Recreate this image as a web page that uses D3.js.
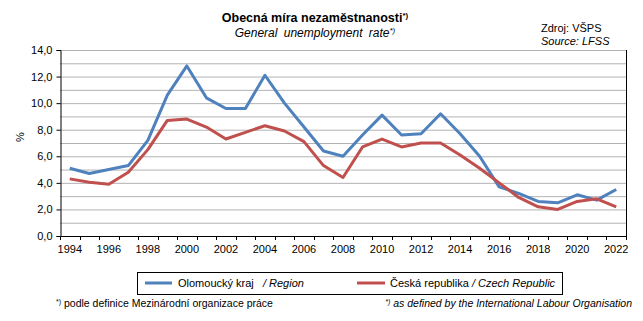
<!DOCTYPE html>
<html><head><meta charset="utf-8">
<script src="https://cdn.jsdelivr.net/npm/d3@7"></script>
<style>body{margin:0;background:#fff}svg{display:block;font-family:"Liberation Sans",Arial,sans-serif}</style>
</head><body>
<svg id="c" width="643" height="321"></svg>
<script>
const years = d3.range(1994, 2023).map(String);
const olomouc = [5.1,4.7,5.0,5.3,7.2,10.6,12.8,10.4,9.6,9.6,12.1,10.0,8.2,6.4,6.0,7.6,9.1,7.6,7.7,9.2,7.7,6.0,3.7,3.2,2.6,2.5,3.1,2.7,3.5];
const cr = [4.3,4.05,3.9,4.8,6.5,8.7,8.8,8.2,7.3,7.8,8.3,7.9,7.1,5.3,4.4,6.7,7.3,6.7,7.0,7.0,6.1,5.1,4.0,2.9,2.2,2.0,2.6,2.8,2.2];
const yTicks = [0,2,4,6,8,10,12,14];
const xLabels = years.filter((d,i)=>i%2===0);

const svg = d3.select("#c");
const L=60, R=626, T=50, B=236;
const x = d3.scaleBand().domain(years).range([L,R]);
const y = d3.scaleLinear().domain([0,14]).range([B,T]);

// gridlines
svg.append("g").selectAll("line").data(d3.range(1,15)).join("line")
  .attr("x1",L).attr("x2",R).attr("y1",d=>y(d)+0.5).attr("y2",d=>y(d)+0.5)
  .attr("stroke","#b3b3b3").attr("stroke-width",1);

// right border
svg.append("line").attr("x1",R+0.5).attr("x2",R+0.5).attr("y1",T).attr("y2",B).attr("stroke","#000");

// y axis
const ya = svg.append("g").attr("transform",`translate(${L+0.5},0)`)
  .call(d3.axisLeft(y).tickValues(yTicks).tickSize(4).tickFormat(d=>d3.format(".1f")(d).replace(".",",")));
ya.select(".domain").attr("stroke","#000");
ya.selectAll("text").attr("font-size",11).attr("fill","#000").attr("font-family","Liberation Sans, Arial, sans-serif").attr("dx",-1);
ya.selectAll(".tick line").attr("stroke","#000");

// x axis
const xa = svg.append("g").attr("transform",`translate(0,${B+0.5})`)
  .call(d3.axisBottom(x).tickSize(0).tickValues(xLabels));
xa.select(".domain").attr("stroke","#000").attr("d",`M${L},0H${R}`);
xa.selectAll("text").attr("font-size",11).attr("fill","#000").attr("font-family","Liberation Sans, Arial, sans-serif").attr("dy","1.25em");
// category boundary ticks
svg.append("g").selectAll("line").data(d3.range(years.length+1)).join("line")
  .attr("x1",i=>Math.round(L+i*x.step())+0.5).attr("x2",i=>Math.round(L+i*x.step())+0.5)
  .attr("y1",B).attr("y2",B+4).attr("stroke","#000");

// lines
const line = d3.line().x((d,i)=>x(years[i])+x.bandwidth()/2).y(d=>y(d));
svg.append("path").datum(olomouc).attr("d",line).attr("fill","none").attr("stroke","#4f81bd").attr("stroke-width",3).attr("stroke-linejoin","round");
svg.append("path").datum(cr).attr("d",line).attr("fill","none").attr("stroke","#c0504d").attr("stroke-width",3).attr("stroke-linejoin","round");

// y label
svg.append("text").attr("transform","translate(24,137) rotate(-90)").attr("text-anchor","middle").attr("font-size",11).text("%");

// title
const t1 = svg.append("text").attr("x",315).attr("y",22).attr("text-anchor","middle").attr("font-size",12.5).attr("font-weight","bold");
t1.append("tspan").text("Obecná míra nezaměstnanosti");
t1.append("tspan").attr("font-size",8).attr("dy",-4).text("*)");
const t2 = svg.append("text").attr("x",315).attr("y",37).attr("text-anchor","middle").attr("font-size",12).attr("font-style","italic").attr("word-spacing",3);
t2.append("tspan").text("General  unemployment  rate");
t2.append("tspan").attr("font-size",8).attr("dy",-4).text("*)");

// source
svg.append("text").attr("x",541).attr("y",32).attr("font-size",11).text("Zdroj: VŠPS");
svg.append("text").attr("x",541).attr("y",45).attr("font-size",11).attr("font-style","italic").text("Source: LFSS");

// legend
svg.append("rect").attr("x",137.5).attr("y",272.5).attr("width",425).attr("height",22).attr("fill","none").attr("stroke","#000");
svg.append("line").attr("x1",145).attr("x2",172).attr("y1",283).attr("y2",283).attr("stroke","#4f81bd").attr("stroke-width",3);
const l1 = svg.append("text").attr("x",178).attr("y",287).attr("font-size",11).attr("xml:space","preserve");
l1.append("tspan").text("Olomoucký kraj  ");
l1.append("tspan").attr("font-style","italic").attr("dx",3).text("/ Region");
svg.append("line").attr("x1",357).attr("x2",385).attr("y1",283).attr("y2",283).attr("stroke","#c0504d").attr("stroke-width",3);
const l2 = svg.append("text").attr("x",390).attr("y",287).attr("font-size",11);
l2.append("tspan").text("Česká republika ");
l2.append("tspan").attr("font-style","italic").text("/ Czech Republic");

// footnotes
const f1 = svg.append("text").attr("x",56).attr("y",307).attr("font-size",10.5);
f1.append("tspan").attr("font-size",7).attr("dy",-3).text("*)");
f1.append("tspan").attr("dy",3).text(" podle definice Mezinárodní organizace práce");
const f2 = svg.append("text").attr("x",632).attr("y",307).attr("text-anchor","end").attr("font-size",10.5).attr("font-style","italic");
f2.append("tspan").attr("font-size",7).attr("dy",-3).text("*)");
f2.append("tspan").attr("dy",3).text(" as defined by the International Labour Organisation");
</script>
</body></html>
